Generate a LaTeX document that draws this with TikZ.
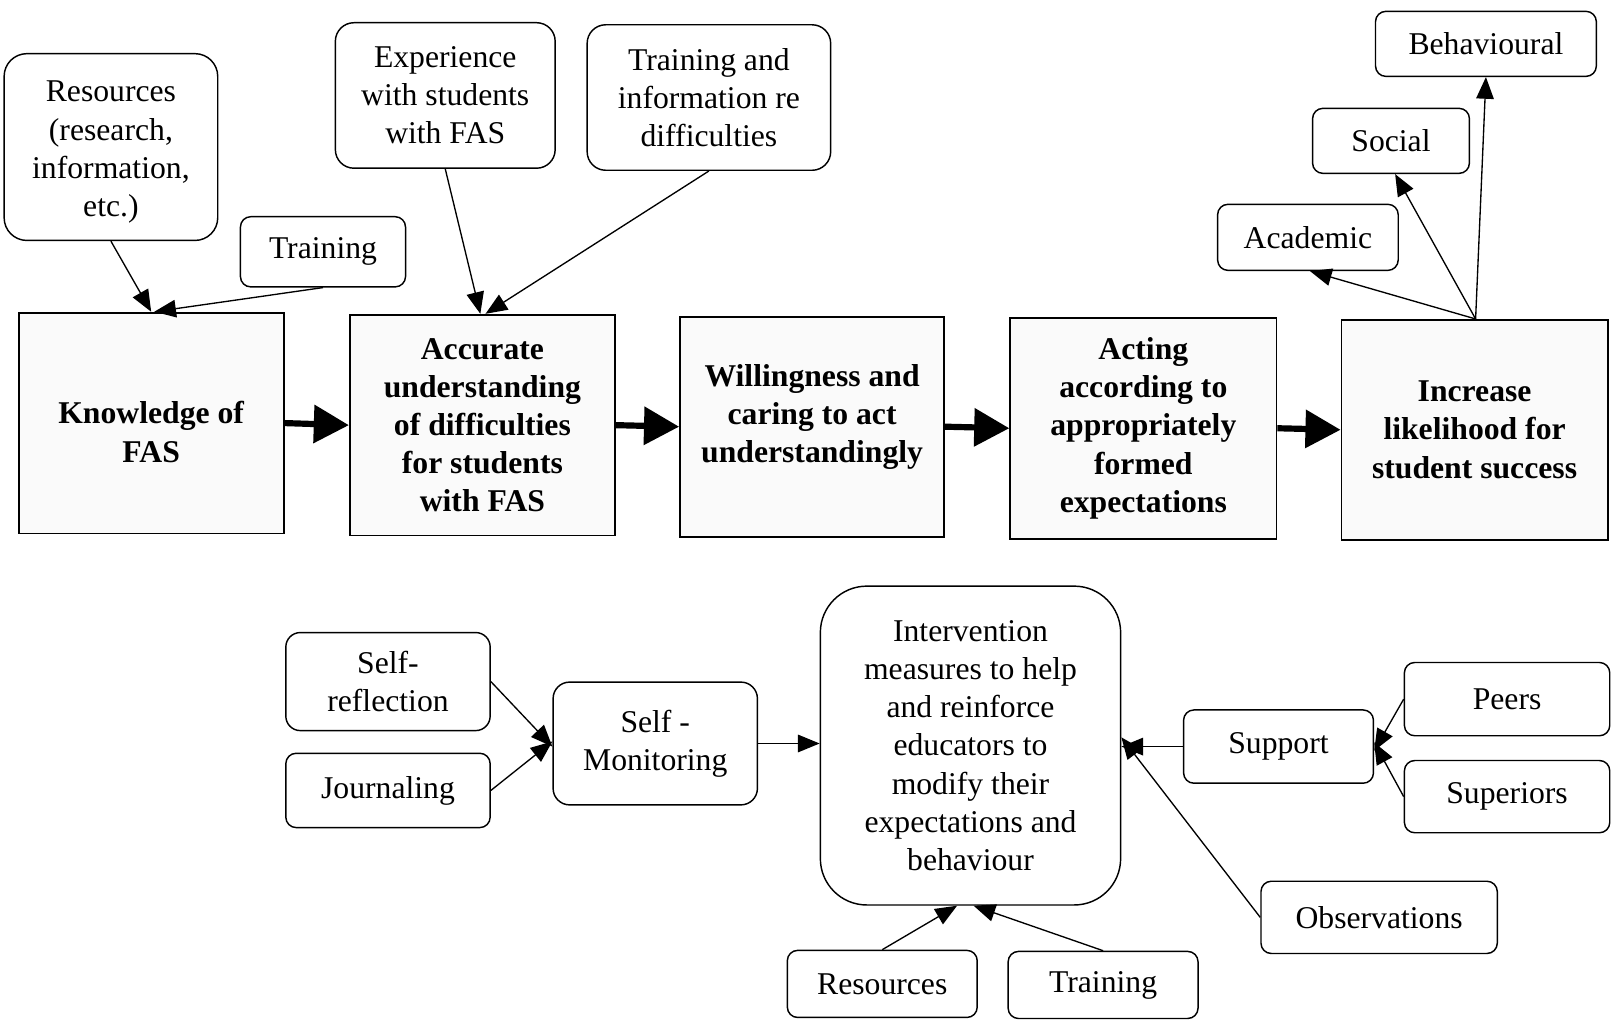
\documentclass[tikz,border=0pt]{standalone}
\usepackage{fontspec}
\setmainfont{Liberation Serif}
\usetikzlibrary{arrows.meta}
\begin{document}
\begin{tikzpicture}[x=1pt,y=-1pt,
  txt/.style={font=\fontsize{30.7}{37}\selectfont, align=center, inner sep=0pt},
  rbox/.style={txt, draw, line width=1.4pt, rounded corners=#1},
  rbox/.default=10pt,
  mainbox/.style={txt, draw, line width=1.8pt, fill=black!2, font=\fontsize{30.7}{37}\selectfont\bfseries},
  thin/.style={line width=1.3pt, -{Triangle[length=21pt,width=17pt]}},
  thick/.style={line width=6pt, -{Triangle[length=34pt,width=36pt]}}
]
\fill[white] (0,0) rectangle (1568,997);
\useasboundingbox (0,0) rectangle (1568,997);

% top inputs
\node[rbox=22pt, minimum width=207pt, minimum height=181pt] (res1) at (107.5,142.5) {\rule{0pt}{30pt}Resources\\(research,\\information,\\etc.)};
\node[rbox, minimum width=160pt, minimum height=68pt] (tr1) at (313,244) {Training};
\node[rbox=18pt, minimum width=213pt, minimum height=141pt] (exp) at (431.5,92.5) {Experience\\with students\\with FAS};
\node[rbox=18pt, minimum width=236pt, minimum height=141pt] (trinfo) at (687,94.5) {Training and\\information re\\difficulties};
\node[rbox, minimum width=214pt, minimum height=63pt] (beh) at (1440,42.5) {Behavioural};
\node[rbox, minimum width=152pt, minimum height=63pt] (soc) at (1348,136.5) {Social};
\node[rbox, minimum width=175pt, minimum height=64pt] (aca) at (1267.5,230) {Academic};

% main row
\node[mainbox, minimum width=257pt, minimum height=214pt] (know) at (146.5,410) {\rule{0pt}{39pt}Knowledge of\\FAS};
\node[mainbox, minimum width=257pt, minimum height=214pt] (acc) at (467.5,412) {Accurate\\understanding\\of difficulties\\for students\\with FAS};
\node[mainbox, minimum width=256pt, minimum height=213pt] (will) at (787,413.5) {Willingness and\\caring to act\\understandingly\rule[-25pt]{0pt}{1pt}};
\node[mainbox, minimum width=258pt, minimum height=214pt] (act) at (1108,415) {Acting\\according to\\appropriately\\formed\\expectations};
\node[mainbox, minimum width=258pt, minimum height=213pt] (inc) at (1429,416.5) {Increase\\likelihood for\\student success};

% bottom
\node[rbox=14pt, minimum width=198pt, minimum height=95pt] (selfr) at (376,660.5) {Self-\\reflection};
\node[rbox, minimum width=198pt, minimum height=72pt] (jour) at (376,766) {Journaling};
\node[rbox=16pt, minimum width=198pt, minimum height=119pt] (smon) at (635,720.5) {Self -\\Monitoring};
\node[rbox=45pt, minimum width=291pt, minimum height=309pt] (interv) at (940.5,722.5) {Intervention\\measures to help\\and reinforce\\educators to\\modify their\\expectations and\\behaviour};
\node[rbox, minimum width=184pt, minimum height=71pt] (sup) at (1239,723.5) {Support};
\node[rbox, minimum width=199pt, minimum height=71pt] (peers) at (1460.5,677.5) {Peers};
\node[rbox, minimum width=199pt, minimum height=70pt] (superiors) at (1460.5,772) {Superiors};
\node[rbox, minimum width=229pt, minimum height=70pt] (obs) at (1336.5,889) {Observations};
\node[rbox, minimum width=184pt, minimum height=65pt] (res2) at (855,953.5) {Resources};
\node[rbox, minimum width=184pt, minimum height=65pt] (tr2) at (1069,954.5) {Training};

% top connectors
\draw[thin] (res1.south) -- (know.north);
\draw[thin] (tr1.south) -- ([xshift=3pt]know.north);
\draw[thin] (exp.south) -- ([xshift=-2pt]acc.north);
\draw[thin] (trinfo.south) -- ([xshift=3pt]acc.north);
\draw[thin] ([xshift=1pt]inc.north) -- ([xshift=2pt]aca.south);
\draw[thin] ([xshift=1pt]inc.north) -- ([xshift=4pt]soc.south);
\draw[thin] ([xshift=1pt]inc.north) -- (beh.south);

% main flow
\draw[thick] (know.east) -- (acc.west);
\draw[thick] (acc.east) -- (will.west);
\draw[thick] (will.east) -- (act.west);
\draw[thick] (act.east) -- (inc.west);

% bottom connectors
\draw[thin] (selfr.east) -- ([yshift=-3pt]smon.west);
\draw[thin] (jour.east) -- ([yshift=2pt]smon.west);
\draw[thin] (smon.east) -- (smon.east -| interv.west);
\draw[thin] (sup.west) -- (sup.west -| interv.east);
\draw[thin] (obs.west) -- ([yshift=8pt]interv.east);
\draw[thin] (peers.west) -- ([yshift=-4pt]sup.east);
\draw[thin] (superiors.west) -- ([yshift=4pt]sup.east);
\draw[thin] (res2.north) -- ([xshift=-13pt]interv.south);
\draw[thin] (tr2.north) -- ([xshift=3pt]interv.south);
\end{tikzpicture}
\end{document}
